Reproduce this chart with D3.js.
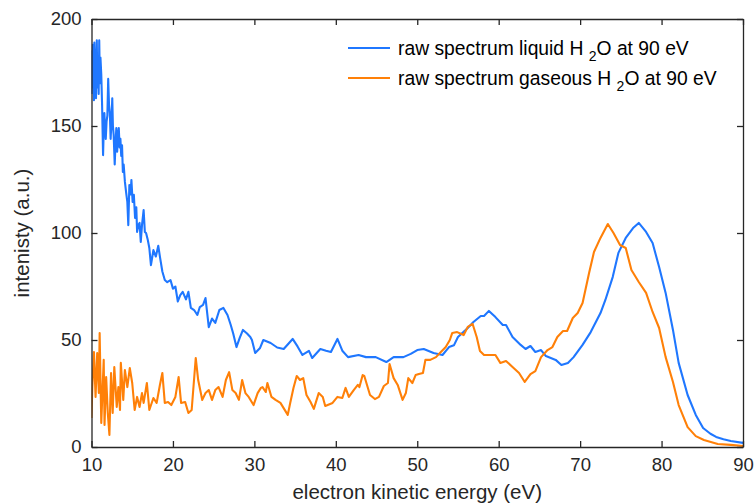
<!DOCTYPE html>
<html>
<head>
<meta charset="utf-8">
<script src="https://cdn.jsdelivr.net/npm/d3@7/dist/d3.min.js"></script>
<style>
  html, body { margin: 0; padding: 0; background: #fff; }
  svg { display: block; font-family: "Liberation Sans", Arial, Helvetica, sans-serif; }
</style>
</head>
<body>
<svg id="chart" width="754" height="504"></svg>
<script>
// ---- data ----
const liquidEnergy = [10.0,10.05,10.1,10.15,10.2,10.25,10.3,10.35,10.45,10.55,10.65,10.72,10.8,10.88,10.95,11.03,11.1,11.2,11.3,11.42,11.5,11.58,11.66,11.75,11.85,11.95,12.05,12.15,12.25,12.35,12.45,12.55,12.63,12.72,12.85,12.95,13.05,13.15,13.25,13.35,13.45,13.55,13.65,13.75,13.85,13.95,14.1,14.25,14.4,14.52,14.65,14.8,14.9,15.05,15.2,15.35,15.5,15.6,15.75,15.9,16.05,16.2,16.4,16.55,16.7,16.9,17.1,17.3,17.6,17.9,18.2,18.4,18.7,19.0,19.3,19.7,20.0,20.3,20.6,20.9,21.2,21.6,21.9,22.2,22.6,23.0,23.3,23.7,24.0,24.4,24.8,25.2,25.7,26.2,26.7,27.1,27.4,27.8,28.2,28.6,29.1,29.5,29.7,30.1,30.7,31.1,32.0,32.8,33.6,34.7,35.3,35.9,36.7,37.1,38.1,38.8,39.4,40.2,40.8,41.5,42.8,43.7,44.9,46.2,47.1,48.3,49.2,50.0,50.8,52.0,53.1,53.9,54.5,55.0,55.6,56.2,56.9,57.8,58.2,58.8,59.6,60.5,60.9,61.7,62.7,63.3,63.9,64.5,65.2,65.8,67.0,67.7,68.5,69.2,70.3,71.3,72.5,73.1,74.0,74.7,75.6,76.5,77.2,78.1,78.9,79.7,80.5,81.4,82.1,83.2,84.2,85.1,86.0,86.7,87.6,88.5,90.0];
const liquidValues = [165,185,172,188,168,182,162,189,176,163,190,168,181,165,190,170,182,174,160,136.4,148,156,150,144,152,155,172,160,156,144,152,163,150,146,132,142,149,138,145,149,140,144,136,141,128.5,132,124,119,114.5,103.7,122.4,118,124.8,114.5,117.8,107,112,100.5,103.7,104.7,95.8,103.7,110.7,100.5,100,97,93,85,92,89,94,89,82,78,77,78,74,75,68,71,72.5,69,72.5,65,64,61.7,65.4,66.4,69.6,56,60,58,64,65,61.7,57,53,46.7,51,54.7,53,51.4,50,43.9,46.3,50,48.6,46.5,45.8,50.5,47,43,44.9,41.6,45.8,45,44.4,50.5,45,42,43,42,42,39.7,42,42,43.5,45.3,45.8,43.9,43,46.7,47.5,51.4,53.5,55.6,58.4,61.2,61.2,63.6,60.7,57,57,51.4,47.7,45.8,47.2,44.4,45.3,42.5,40.7,38.3,39.3,42,47.7,53.7,62.6,68.7,79.4,90.7,97.7,102.3,104.7,100.5,95.3,84.1,72,54.7,39.3,24.3,15,8.9,6.2,4.7,3.6,2.8,1.9];

const gasEnergy = [10.0,10.1,10.3,10.5,10.7,10.9,11.0,11.2,11.5,11.6,11.8,12.0,12.2,12.4,12.6,12.8,13.1,13.3,13.5,13.6,13.9,14.1,14.4,14.7,15.0,15.3,15.6,15.9,16.2,16.4,16.8,17.1,17.6,18.0,18.4,18.7,19.0,19.4,19.8,20.3,20.7,21.0,21.5,21.9,22.3,22.8,23.1,23.6,24.0,24.4,24.8,25.2,25.6,26.1,26.5,26.9,27.3,27.7,28.1,28.5,28.9,29.3,29.9,30.4,30.8,31.0,31.4,31.6,32.1,32.6,33.2,34.1,34.4,34.8,35.2,35.6,36.0,36.4,36.9,37.3,37.9,38.4,38.7,39.6,40.2,40.8,41.2,41.6,42.2,42.7,42.9,43.3,43.5,44.2,44.8,45.3,45.9,46.4,46.6,47.1,47.6,48.2,48.6,48.9,49.4,49.8,50.2,50.7,51.0,51.6,52.3,52.9,53.5,54.0,54.3,54.9,55.7,56.2,56.8,57.3,57.7,58.2,59.6,60.2,60.9,61.7,62.5,63.2,63.9,64.5,65.2,66.0,66.6,67.2,67.9,68.4,69.1,69.7,70.3,71.1,71.7,72.5,73.4,74.1,74.9,75.6,76.3,77.2,78.1,78.9,79.7,80.5,81.4,82.1,83.2,84.2,85.2,86.9,88.5,90.0];
const gasValues = [13.6,28,44.4,23.4,43.9,25.2,53.3,11.2,40.7,10.3,32.7,15.9,5.6,34.6,15.9,37.4,18.7,28,17.3,39.3,22,36,28,36.9,29.9,17.3,23.4,18.7,25.2,20.6,29.9,17.3,22.9,20.6,29,34.6,20.6,21,19.6,23.4,32.7,20.6,21,15.9,17.3,41.6,31.3,22,25.2,26.6,22,26.6,28,23.4,31.3,35,26.6,25.2,22,31.3,25.2,23.4,19.6,25.2,27.6,28,25.7,29.9,23.4,22,20.6,15,20.6,27.6,33.2,31.3,32.2,24.3,21,17.8,25.2,23.4,19.2,20.6,23.4,22.9,27.6,23.4,26.6,29,28,33.6,33.2,24.3,22.4,23.4,28.5,29.9,38.8,32.2,29,22,25.2,32.2,29.9,33.6,34.1,34.6,40.7,40.7,42,44.4,46.7,50,53.3,53.7,52.3,56.1,57.5,51.4,44.9,43,43,39.3,40.2,37.4,34.6,30.4,34.1,35.5,42,45.3,46.7,51.4,54.2,54.2,60.3,62.6,67.3,81.3,91.1,97.7,104.2,100,94.4,93,82.7,77.1,72,63.1,55.6,42,30.4,19.6,9.3,5.1,3.3,1.4,1.0,0.5];

const xTicks = [10,20,30,40,50,60,70,80,90];
const yTicks = [0,50,100,150,200];
const seriesNames = ["raw spectrum liquid H", "raw spectrum gaseous H"];
const seriesColors = ["#1f77ff", "#ff8008"];

// ---- layout ----
const svg = d3.select("#chart");
const mLeft = 91.5, mRight = 743, mTop = 19, mBottom = 447;
const x = d3.scaleLinear().domain([10, 90]).range([mLeft, mRight]);
const y = d3.scaleLinear().domain([0, 200]).range([mBottom, mTop]);
const axisColor = "#262626";

const line = d3.line().x(d => x(d[0])).y(d => y(d[1]));

svg.append("clipPath").attr("id", "clip")
  .append("rect").attr("x", mLeft).attr("y", mTop).attr("width", mRight - mLeft).attr("height", mBottom - mTop);

const plot = svg.append("g").attr("clip-path", "url(#clip)");
plot.append("path")
  .datum(liquidEnergy.map((e, i) => [e, liquidValues[i]]))
  .attr("fill", "none").attr("stroke", seriesColors[0]).attr("stroke-width", 2.1)
  .attr("stroke-linejoin", "round").attr("d", line);
plot.append("path")
  .datum(gasEnergy.map((e, i) => [e, gasValues[i]]))
  .attr("fill", "none").attr("stroke", seriesColors[1]).attr("stroke-width", 2.1)
  .attr("stroke-linejoin", "round").attr("d", line);

function styleAxis(g, hideLabels) {
  g.selectAll("path.domain").attr("stroke", axisColor).attr("stroke-width", 1.3);
  g.selectAll(".tick line").attr("stroke", axisColor).attr("stroke-width", 1.3);
  g.selectAll(".tick text").attr("fill", axisColor).style("font-size", "18.5px")
    .style("font-family", '"Liberation Sans", Arial, sans-serif');
  if (hideLabels) g.selectAll(".tick text").remove();
}

svg.append("g").attr("transform", `translate(0,${mBottom})`)
  .call(d3.axisBottom(x).tickValues(xTicks).tickSizeInner(-6).tickSizeOuter(0).tickPadding(11).tickFormat(d3.format("d")))
  .call(g => styleAxis(g, false));
svg.append("g").attr("transform", `translate(0,${mTop})`)
  .call(d3.axisTop(x).tickValues(xTicks).tickSizeInner(-6).tickSizeOuter(0))
  .call(g => styleAxis(g, true));
svg.append("g").attr("transform", `translate(${mLeft},0)`)
  .call(d3.axisLeft(y).tickValues(yTicks).tickSizeInner(-6).tickSizeOuter(0).tickPadding(10).tickFormat(d3.format("d")))
  .call(g => styleAxis(g, false));
svg.append("g").attr("transform", `translate(${mRight},0)`)
  .call(d3.axisRight(y).tickValues(yTicks).tickSizeInner(-6).tickSizeOuter(0))
  .call(g => styleAxis(g, true));

// axis titles
svg.append("text").attr("x", (mLeft + mRight) / 2).attr("y", 499)
  .attr("text-anchor", "middle").attr("fill", axisColor).style("font-size", "20.5px")
  .text("electron kinetic energy (eV)");
svg.append("text").attr("transform", `translate(29,${(mTop + mBottom) / 2}) rotate(-90)`)
  .attr("text-anchor", "middle").attr("fill", axisColor).style("font-size", "20.5px")
  .text("intenisty (a.u.)");

// legend
const legendRows = [48, 78];
seriesNames.forEach((name, i) => {
  const ly = legendRows[i];
  svg.append("line").attr("x1", 348).attr("x2", 390).attr("y1", ly).attr("y2", ly)
    .attr("stroke", seriesColors[i]).attr("stroke-width", 2);
  const t = svg.append("text").attr("x", 398).attr("y", ly + 6.5)
    .attr("fill", "#000").style("font-size", "19.3px");
  t.append("tspan").text(name + " ");
  t.append("tspan").attr("dy", 6).style("font-size", "14px").text("2");
  t.append("tspan").attr("dy", -6).text("O at 90 eV");
});
</script>
</body>
</html>
